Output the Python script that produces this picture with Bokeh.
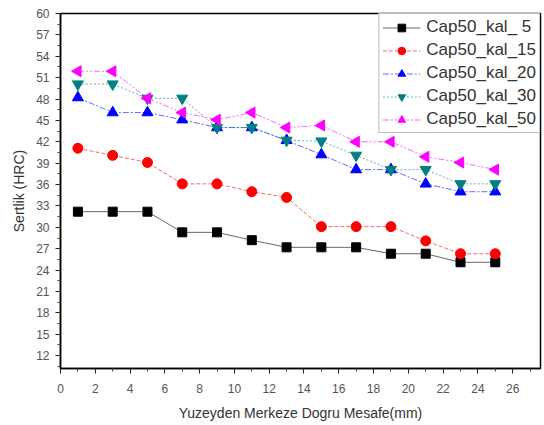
import numpy as np
from bokeh.plotting import figure
from bokeh.models import FixedTicker, Range1d, Legend, LegendItem
from bokeh.embed import file_html
from bokeh.resources import INLINE

x_mm = [1, 3, 5, 7, 9, 11, 13, 15, 17, 19, 21, 23, 25]
kal_5 = [32.2, 32.2, 32.2, 29.3, 29.3, 28.2, 27.2, 27.2, 27.2, 26.3, 26.3, 25.1, 25.1]
kal_15 = [41.1, 40.1, 39.1, 36.1, 36.1, 35.0, 34.2, 30.1, 30.1, 30.1, 28.1, 26.3, 26.3]
kal_20 = [48.2, 46.1, 46.1, 45.1, 44.0, 44.0, 42.2, 40.2, 38.1, 38.1, 36.1, 35.0, 35.0]
kal_30 = [50.1, 50.1, 48.1, 48.1, 44.0, 44.0, 42.2, 42.1, 40.1, 38.1, 38.1, 36.1, 36.1]
kal_50 = [51.9, 51.9, 48.1, 46.1, 45.1, 46.1, 44.0, 44.3, 42.0, 42.0, 39.9, 39.1, 38.1]
series_names = ["Cap50_kal_ 5", "Cap50_kal_15", "Cap50_kal_20", "Cap50_kal_30", "Cap50_kal_50"]
x_ticks = list(range(0, 27, 2))
y_ticks = list(range(12, 61, 3))

FONT = "Liberation Sans"

p = figure(width=544, height=425, output_backend="svg", toolbar_location=None,
           x_range=Range1d(0, 27.6), y_range=Range1d(10.2, 60),
           min_border_left=60, min_border_right=4, min_border_top=13, min_border_bottom=57)
p.background_fill_color = "white"
p.border_fill_color = "white"
p.xgrid.visible = False
p.ygrid.visible = False
p.outline_line_color = "black"
p.outline_line_width = 1.5

p.xaxis.ticker = FixedTicker(ticks=x_ticks, minor_ticks=list(range(1, 28, 2)))
p.yaxis.ticker = FixedTicker(ticks=y_ticks, minor_ticks=[v + 1.5 for v in range(9, 60, 3)])
for ax in (p.xaxis[0], p.yaxis[0]):
    ax.axis_line_width = 1.5
    ax.axis_line_color = "black"
    ax.major_tick_in = 0
    ax.major_tick_out = 5
    ax.minor_tick_in = 0
    ax.minor_tick_out = 3
    ax.major_tick_line_color = "#222"
    ax.minor_tick_line_color = "#444"
    ax.major_label_text_font = FONT
    ax.major_label_text_font_size = "12px"
    ax.major_label_text_color = "#555"
    ax.axis_label_text_font = FONT
    ax.axis_label_text_font_style = "normal"
    ax.axis_label_text_font_size = "14px"
    ax.axis_label_text_color = "#333"

p.xaxis.axis_label = "Yuzeyden Merkeze Dogru Mesafe(mm)"
p.yaxis.axis_label = "Sertlik (HRC)"
p.xaxis.major_label_standoff = 10
p.xaxis.axis_label_standoff = 9
p.yaxis.major_label_standoff = 6
p.yaxis.axis_label_standoff = 6

data = [kal_5, kal_15, kal_20, kal_30, kal_50]
colors = ["black", "#ff0000", "#0000ff", "#008080", "#ff00ff"]
dashes = ["solid", "4 2", "6 2 2 2", "2 2", "6 2 2 2 2 2"]
markers = ["square", "circle", "triangle", "inverted_triangle", "triangle"]
angles = [0, 0, 0, 0, np.pi / 2]
sizes = [9, 10, 11, 11, 11]

items = []
for ys, name, c, d, m, a, s in zip(data, series_names, colors, dashes, markers, angles, sizes):
    ln = p.line(x_mm, ys, line_color=c, line_alpha=0.6, line_width=1, line_dash=d)
    sc = p.scatter(x_mm, ys, marker=m, size=s, angle=a, fill_color=c, line_color=c)
    items.append(LegendItem(label=name, renderers=[ln, sc]))

legend = Legend(items=items, location="top_right")
legend.margin = 0
legend.padding = 3
legend.spacing = 3
legend.glyph_height = 19
legend.glyph_width = 38
legend.label_standoff = 6
legend.label_height = 19
legend.label_text_font = FONT
legend.label_text_font_size = "17px"
legend.label_text_color = "#333"
legend.border_line_color = "#777"
legend.border_line_width = 1
legend.background_fill_alpha = 1
p.add_layout(legend, "center")

open("out.html", "w").write(file_html(p, INLINE))
